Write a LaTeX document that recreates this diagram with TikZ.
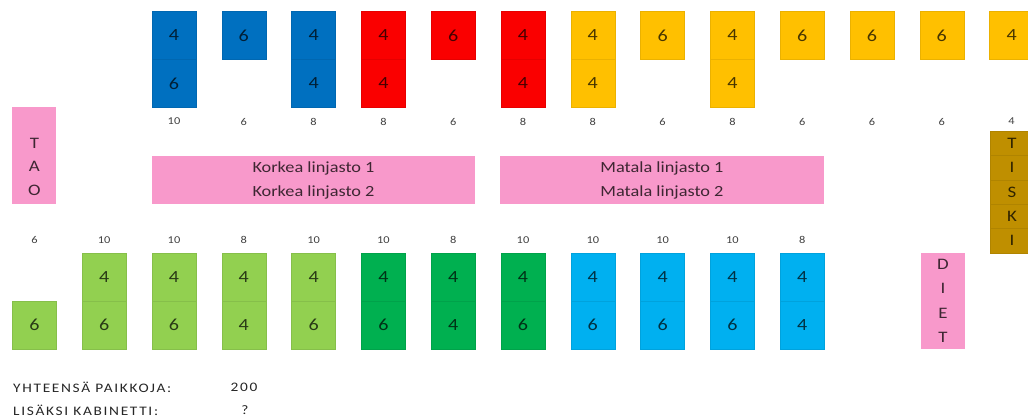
\documentclass[tikz,border=0pt]{standalone}
\usepackage{fontspec}
\setmainfont{Carlito}[FakeStretch=1.18]
\definecolor{cblue}{RGB}{0,112,192}
\definecolor{cred}{RGB}{250,0,0}
\definecolor{cyel}{RGB}{255,192,0}
\definecolor{clg}{RGB}{146,208,80}
\definecolor{cdg}{RGB}{0,176,80}
\definecolor{clb}{RGB}{0,176,240}
\definecolor{cpink}{RGB}{248,153,203}
\definecolor{cbrown}{RGB}{191,143,0}
\tikzset{
  cell/.style={rectangle, minimum width=44pt, minimum height=48pt, inner sep=0pt, outer sep=0pt,
    fill=#1, draw=#1!92!black, line width=0.3pt, text=black, text opacity=0.72,
    font=\fontsize{17}{20}\selectfont},
  tcell/.style={rectangle, minimum width=44pt, minimum height=24.4pt, inner sep=0pt, outer sep=0pt,
    fill=cbrown, draw=cbrown!92!black, line width=0.3pt, text=black, text opacity=0.75,
    font=\fontsize{16}{18}\selectfont},
  pinkbox/.style={rectangle, inner sep=0pt, outer sep=0pt, fill=cpink, draw=none},
  vtext/.style={align=center, inner sep=0pt, text=black, text opacity=0.75},
  lbl/.style={inner sep=0pt, text=black!75, font=\fontsize{10.5}{12}\selectfont},
  foot/.style={inner sep=0pt, text=black!85, font=\fontsize{13}{15}\selectfont\addfontfeature{LetterSpace=13}}
}
\begin{document}
\begin{tikzpicture}[x=1pt,y=-1pt]
\useasboundingbox (0,0) rectangle (1028,418);
% top row
\foreach \i/\c/\a/\n in {2/cblue/4/10, 3/cblue/6/6, 4/cblue/4/8, 5/cred/4/8, 6/cred/6/6, 7/cred/4/8,
  8/cyel/4/8, 9/cyel/6/6, 10/cyel/4/8, 11/cyel/6/6, 12/cyel/6/6, 13/cyel/6/6, 14/cyel/4/4} {
  \node[cell=\c] (t\i-a) at ({34.4+69.8*\i},35.5) {\a};
  \node[lbl] (t\i-n) at ({34.4+69.8*\i},121.5) {\n};
}
\foreach \i/\c/\b in {2/cblue/6, 4/cblue/4, 5/cred/4, 7/cred/4, 8/cyel/4, 10/cyel/4} {
  \node[cell=\c] (t\i-b) at ({34.4+69.8*\i},83.5) {\b};
}
% TAO
\node[pinkbox, minimum width=44pt, minimum height=97pt] (tao) at (34.4,155.5) {};
\node[vtext, font=\fontsize{16}{23.5}\selectfont] (taotxt) at (34.4,166.5) {T\\A\\O};
% lines
\node[pinkbox, minimum width=323pt, minimum height=48pt, vtext, font=\fontsize{15.5}{24}\selectfont] (korkea) at (313.5,180) {Korkea linjasto 1\\Korkea linjasto 2};
\node[pinkbox, minimum width=324pt, minimum height=48pt, vtext, font=\fontsize{15.5}{24}\selectfont] (matala) at (662,180) {Matala linjasto 1\\Matala linjasto 2};
% TISKI
\foreach \L [count=\k] in {T,I,S,K,I} {
  \node[tcell] (tiski\k) at (1012,{131+24.4*(\k-0.5)}) {\L};
}
% bottom row
\node[cell=clg] (b0-b) at (34.4,325) {6};
\node[lbl] (b0-n) at (34.4,240) {6};
\foreach \i/\c/\a/\b/\n in {1/clg/4/6/10, 2/clg/4/6/10, 3/clg/4/4/8, 4/clg/4/6/10,
  5/cdg/4/6/10, 6/cdg/4/4/8, 7/cdg/4/6/10,
  8/clb/4/6/10, 9/clb/4/6/10, 10/clb/4/6/10, 11/clb/4/4/8} {
  \node[cell=\c] (b\i-a) at ({34.4+69.8*\i},277) {\a};
  \node[cell=\c] (b\i-b) at ({34.4+69.8*\i},325) {\b};
  \node[lbl] (b\i-n) at ({34.4+69.8*\i},240) {\n};
}
% DIET
\node[pinkbox, minimum width=44pt, minimum height=96pt, vtext, font=\fontsize{16}{24.5}\selectfont] (diet) at (943,301) {D\\I\\E\\T};
% footer
\node[foot, anchor=west] (yht) at (13,387) {YHTEENSÄ PAIKKOJA:};
\node[foot] (yhtn) at (244,387) {200};
\node[foot, anchor=west] (lis) at (13,410) {LISÄKSI KABINETTI:};
\node[foot] (lisn) at (245,410) {?};
\end{tikzpicture}
\end{document}
